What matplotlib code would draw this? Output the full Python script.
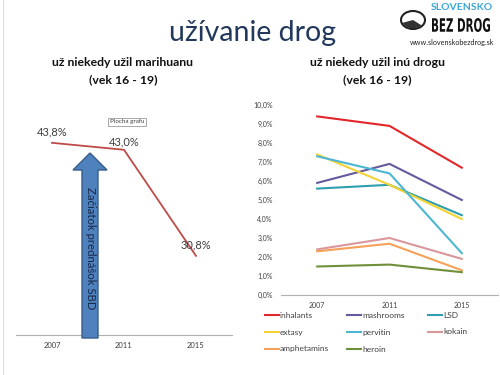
import matplotlib.pyplot as plt
import matplotlib.patches as mpatches
from matplotlib.lines import Line2D
from matplotlib.ticker import FuncFormatter
from matplotlib.textpath import TextPath
from matplotlib.font_manager import FontProperties
from matplotlib.transforms import Affine2D

# data
years = ["2007", "2011", "2015"]
marihuana = [43.8, 43.0, 30.8]

drugs = ["inhalants", "mashrooms", "LSD", "extasy", "pervitin",
         "kokain", "amphetamins", "heroin"]
inhalants = [9.4, 8.9, 6.7]
mashrooms = [5.9, 6.9, 5.0]
lsd = [5.6, 5.8, 4.2]
extasy = [7.4, 5.8, 4.0]
pervitin = [7.3, 6.4, 2.2]
kokain = [2.4, 3.0, 1.9]
amphetamins = [2.3, 2.7, 1.3]
heroin = [1.5, 1.6, 1.2]
drug_values = [inhalants, mashrooms, lsd, extasy, pervitin,
               kokain, amphetamins, heroin]
drug_colors = ["#E3262A", "#655A9C", "#2E9FAE", "#F3D234",
               "#4DB6D2", "#D9979B", "#F5A15A", "#6F8F3A"]

W, H = 500, 375
plt.rcParams['font.family'] = ['Lato', 'DejaVu Sans']

fig = plt.figure(figsize=(5, 3.75), dpi=100)
fig.patch.set_facecolor("white")


def fx(px):
    return px / W


def fy(py):
    return 1 - py / H


# thin slide border on the left
fig.add_artist(Line2D([fx(3), fx(3)], [0, 1], color="#dddddd", lw=0.8))

# title and logo
fig.text(fx(253), fy(33), "užívanie drog", fontsize=20.5, color="#22385C",
         ha="center", va="center")
fig.add_artist(mpatches.Circle((fx(413), fy(20)), 12 / W, transform=fig.transFigure,
                               facecolor="white", edgecolor="#222222", lw=1.5))
fig.add_artist(mpatches.Wedge((fx(413), fy(20)), 11 / W, 200, 320,
                              transform=fig.transFigure, facecolor="#333333"))
fig.text(fx(462), fy(8), "SLOVENSKO", fontsize=7.5, color="#3AA6D6",
         fontweight="bold", ha="center", va="center")
# condensed "BEZ DROG" drawn as a squeezed text path
tp = TextPath((0, 0), "BEZ DROG", size=10,
              prop=FontProperties(family="DejaVu Sans", weight="bold"))
bb = tp.get_extents()
sx = 58 / bb.width
sy = 14 / bb.height
logo_tf = (Affine2D().translate(-bb.x0, -bb.y0).scale(sx, sy)
           .translate(432, H - 32).scale(1 / W, 1 / H) + fig.transFigure)
fig.add_artist(mpatches.PathPatch(tp, transform=logo_tf, facecolor="#111111",
                                  edgecolor="none"))
fig.text(fx(452), fy(43), "www.slovenskobezdrog.sk", fontsize=5.2,
         color="#222222", ha="center", va="center")

# subtitles
for cx, line1 in [(123, "už niekedy užil marihuanu"), (377, "už niekedy užil inú drogu")]:
    fig.text(fx(cx), fy(63), line1, fontsize=8.8, fontweight="bold",
             color="#111111", ha="center", va="center")
    fig.text(fx(cx), fy(80), "(vek 16 - 19)", fontsize=8.8, fontweight="bold",
             color="#111111", ha="center", va="center")

# left chart
ax1 = fig.add_axes([fx(16), fy(335), 216 / W, 240 / H])
x = range(len(years))
ax1.plot(x, marihuana, color="#BE4B48", lw=1.3)
ax1.set_xlim(-0.5, 2.5)
ax1.set_ylim(21.7, 49.3)
ax1.set_xticks(list(x))
ax1.set_xticklabels(years, fontsize=5.5, color="#404040")
ax1.tick_params(axis="x", length=0, pad=5)
ax1.set_yticks([])
for s in ["left", "right", "top"]:
    ax1.spines[s].set_visible(False)
ax1.spines["bottom"].set_color("#B0B0B0")
label_offsets = [(0, 8), (0, 6), (0, 8)]
for i, v in enumerate(marihuana):
    ax1.annotate(f"{v:.1f}%".replace(".", ","), (i, v),
                 xytext=label_offsets[i], textcoords="offset points",
                 ha="center", va="center", fontsize=8, color="#404040")

fig.text(fx(127), fy(122), "Plocha grafu", fontsize=4.5, color="#404040",
         ha="center", va="center",
         bbox=dict(boxstyle="square,pad=0.3", fc="white", ec="#9A9A9A", lw=0.6))

# blue arrow
arrow_pts = [(82, 338), (98, 338), (98, 170), (107, 170), (90, 153),
             (73, 170), (82, 170)]
fig.add_artist(mpatches.Polygon([(fx(a), fy(b)) for a, b in arrow_pts], closed=True,
                                transform=fig.transFigure, facecolor="#4F81BD",
                                edgecolor="#385D8A", lw=1))
fig.text(fx(90), fy(248), "Začiatok prednášok SBD", rotation=-90, fontsize=8.2,
         color="#17284A", ha="center", va="center")

# right chart
ax2 = fig.add_axes([fx(281), fy(295), 217 / W, 190 / H])
for vals, c in zip(drug_values, drug_colors):
    ax2.plot(x, vals, color=c, lw=1.5)
ax2.set_xlim(-0.5, 2.5)
ax2.set_ylim(0, 10)
ax2.set_yticks(range(0, 11))
ax2.yaxis.set_major_formatter(FuncFormatter(lambda v, p: f"{v:.1f}%".replace(".", ",")))
ax2.set_xticks(list(x))
ax2.set_xticklabels(years, fontsize=5, color="#404040")
ax2.tick_params(axis="y", length=0, labelsize=5, labelcolor="#404040", pad=6)
ax2.tick_params(axis="x", length=0, pad=5)
for s in ["left", "right", "top"]:
    ax2.spines[s].set_visible(False)
ax2.spines["bottom"].set_color("#B0B0B0")

# legend, three per row
col_x = [265, 347, 428]
row_y = [315, 332, 349]
for i, (name, c) in enumerate(zip(drugs, drug_colors)):
    lx, ly = col_x[i % 3], row_y[i // 3]
    fig.add_artist(Line2D([fx(lx), fx(lx + 14)], [fy(ly), fy(ly)], color=c, lw=1.5))
    fig.text(fx(lx + 15), fy(ly), name, fontsize=6, color="#404040",
             ha="left", va="center")

fig.savefig("out.png", dpi=100, facecolor="white")
